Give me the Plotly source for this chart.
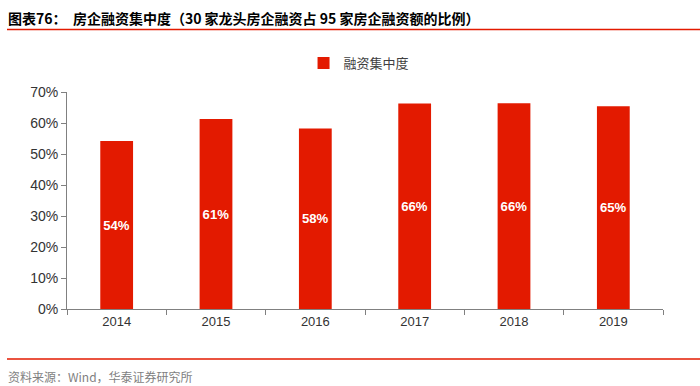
import plotly.graph_objects as go

years = ["2014", "2015", "2016", "2017", "2018", "2019"]
values = [54.2, 61.3, 58.2, 66.3, 66.4, 65.4]
labels = ["54%", "61%", "58%", "66%", "66%", "65%"]
series_name = "融资集中度"
y_ticks = [0, 10, 20, 30, 40, 50, 60, 70]
y_tick_text = [f"{v}%" for v in y_ticks]

title = "图表76：  房企融资集中度（30 家龙头房企融资占 95 家房企融资额的比例）"
source = "资料来源：Wind，华泰证券研究所"

red = "#E31A00"
PW = 596.0
PH = 217.0

fig = go.Figure()
fig.add_trace(go.Bar(
    x=years, y=values, name=series_name,
    marker=dict(color=red, line=dict(width=0)),
    width=0.33,
    text=labels, textposition="inside", insidetextanchor="middle",
    textangle=0,
    textfont=dict(family="Liberation Sans, Arial", size=14, color="white", weight="bold"),
    showlegend=True,
))

fig.update_layout(
    width=700, height=386,
    margin=dict(l=67, r=37, t=92, b=77),
    paper_bgcolor="white", plot_bgcolor="white",
    font=dict(family="Liberation Sans, Arial", color="#333333"),
    legend=dict(
        orientation="h", x=0.49, xanchor="center", y=1 + (92 - 63) / PH, yanchor="middle",
        yref="paper", font=dict(family="Noto Sans CJK SC", size=13, color="#404040"),
        itemwidth=30, bgcolor="rgba(0,0,0,0)",
    ),
    xaxis=dict(
        showline=True, linecolor="#808080", linewidth=1,
        ticks="outside", tickson="boundaries", ticklen=5, tickcolor="#808080",
        tickfont=dict(size=13, color="#333333"),
        showgrid=False,
    ),
    yaxis=dict(
        range=[0, 70], tickvals=y_ticks, ticktext=y_tick_text,
        showline=True, linecolor="#808080", linewidth=1,
        ticks="outside", ticklen=5, tickcolor="#808080",
        tickfont=dict(size=14, color="#333333"),
        showgrid=False, zeroline=False,
    ),
    bargap=0.67,
)

fig.add_annotation(
    text=f"<b>{title}</b>", xref="paper", yref="paper",
    x=-61 / PW, xanchor="left", y=1 + (92 - 18) / PH, yanchor="middle",
    showarrow=False, font=dict(family="Noto Sans CJK SC", size=14, color="#000000"),
)
fig.add_shape(type="line", xref="paper", yref="paper",
              x0=-60 / PW, x1=1 + 37 / PW, y0=1 + (92 - 29.5) / PH, y1=1 + (92 - 29.5) / PH,
              line=dict(color=red, width=1.5))
fig.add_shape(type="line", xref="paper", yref="paper",
              x0=-60 / PW, x1=1 + 37 / PW, y0=-(359 - 309) / PH, y1=-(359 - 309) / PH,
              line=dict(color=red, width=1.5))
fig.add_annotation(
    text=source, xref="paper", yref="paper",
    x=-61 / PW, xanchor="left", y=-(376 - 309) / PH, yanchor="middle",
    showarrow=False, font=dict(family="Noto Sans CJK SC", size=12, color="#7f7f7f"),
)

fig.write_html("out.html", post_script="document.body.style.margin='0';",
               config={"displayModeBar": False})
